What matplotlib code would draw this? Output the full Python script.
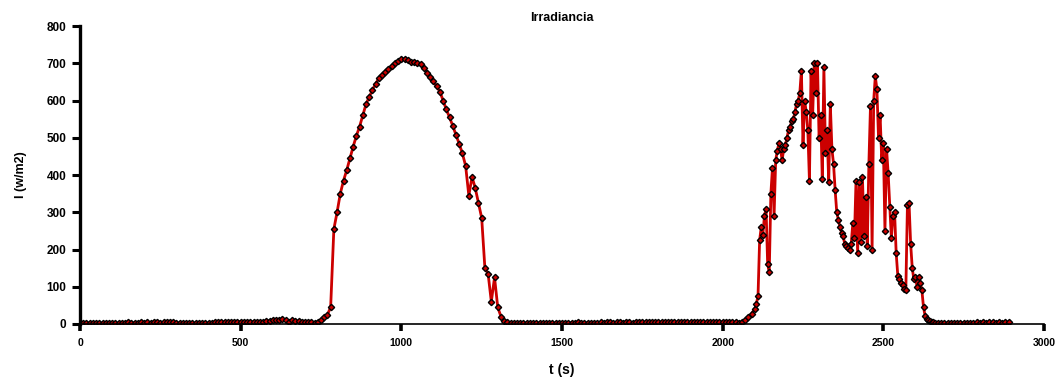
import numpy as np
import matplotlib
matplotlib.use("Agg")
from matplotlib import pyplot as plt

plt.rcParams['font.family'] = ['Liberation Sans', 'DejaVu Sans']

# irradiance, 10 s steps from 0 s to 2090 s (one row = 100 s)
irr_a = [
    2, 2, 3, 2, 2, 3, 2, 2, 2, 3,
    2, 2, 2, 2, 3, 5, 3, 3, 2, 4,
    3, 5, 3, 4, 5, 3, 5, 4, 5, 4,
    3, 2, 2, 2, 2, 2, 2, 2, 2, 2,
    2, 3, 5, 5, 6, 5, 6, 6, 5, 6,
    6, 6, 5, 6, 6, 6, 6, 6, 7, 9,
    11, 12, 12, 13, 11, 4, 12, 9, 7, 6,
    6, 5, 4, 3, 6, 12, 18, 25, 45, 255,
    300, 350, 385, 413, 445, 476, 505, 530, 560, 590,
    610, 628, 645, 660, 668, 677, 684, 692, 700, 707,
    712, 712, 708, 704, 703, 700, 698, 688, 674, 664,
    652, 638, 624, 600, 576, 555, 532, 508, 484, 458,
    425, 345, 395, 365, 325, 285, 150, 135, 60, 125,
    45, 20, 8, 4, 3, 2, 2, 2, 3, 2,
    2, 2, 3, 2, 2, 2, 3, 2, 2, 3,
    3, 3, 2, 3, 3, 4, 3, 3, 3, 2,
    3, 3, 4, 3, 4, 4, 3, 4, 4, 3,
    4, 4, 3, 4, 4, 5, 4, 4, 5, 4,
    4, 5, 4, 4, 5, 4, 5, 4, 4, 5,
    4, 5, 5, 4, 5, 4, 5, 5, 4, 5,
    5, 4, 5, 5, 4, 3, 5, 10, 18, 28,
]

# irradiance, 5 s steps from 2100 s (one row = 50 s)
irr_b = [
    40, 55, 75, 225, 260, 240, 290, 310, 160, 140,
    350, 420, 290, 440, 465, 485, 470, 440, 470, 480,
    500, 520, 530, 545, 550, 570, 590, 600, 620, 680,
    480, 600, 570, 520, 385, 680, 560, 700, 620, 700,
    500, 560, 390, 690, 460, 520, 380, 590, 470, 430,
    360, 300, 280, 260, 245, 235, 215, 210, 205, 200,
    215, 270, 230, 385, 190, 380, 220, 395, 235, 340,
    210, 430, 585, 200, 600, 665, 630, 500, 560, 440,
    485, 250, 470, 405, 315, 230, 290, 300, 190, 130,
    120, 110, 105, 95, 90, 320, 325, 215, 150, 120,
    125, 100, 125, 110, 90, 45, 22, 14, 10, 7,
    5, 4,
]

# irradiance, 10 s steps from 2660 s
irr_c = [
    3, 3, 2, 2, 2, 3, 2, 2, 2, 3,
    2, 3, 3, 4, 3, 4, 3, 4, 4, 3,
    4, 3, 4, 5,
]

t_a = np.arange(len(irr_a)) * 10
t_b = 2100 + np.arange(len(irr_b)) * 5
t_c = 2660 + np.arange(len(irr_c)) * 10
t = np.concatenate([t_a, t_b, t_c])
irr = np.concatenate([irr_a, irr_b, irr_c])

fig = plt.figure(figsize=(10.57, 3.8), dpi=100)
ax = fig.add_axes([0.0757, 0.1474, 0.912, 0.784])

ax.plot(t, irr, color='#cc0000', linewidth=2.0, marker='D', markersize=3.2,
        markerfacecolor='#cc0000', markeredgecolor='black', markeredgewidth=1.0)

ax.set_xlim(0, 3000)
ax.set_ylim(0, 800)
ax.set_xticks(np.arange(0, 3001, 500))
ax.set_yticks(np.arange(0, 801, 100))

for s in ['top', 'right']:
    ax.spines[s].set_visible(False)
ax.spines['left'].set_linewidth(2.4)
ax.spines['bottom'].set_linewidth(1.2)
ax.tick_params(axis='x', direction='out', length=5, width=2.6, pad=5, labelsize=7.5)
ax.tick_params(axis='y', direction='out', length=6, width=2.2, pad=4, labelsize=8.5)
for lab in ax.get_xticklabels() + ax.get_yticklabels():
    lab.set_fontweight('bold')

ax.set_title('Irradiancia', fontsize=9, fontweight='bold', pad=4)
ax.set_xlabel('t (s)', fontsize=10, fontweight='bold', labelpad=11)
ax.set_ylabel('I (w/m2)', fontsize=9, fontweight='bold', labelpad=14)

fig.savefig('out.png', dpi=100)
